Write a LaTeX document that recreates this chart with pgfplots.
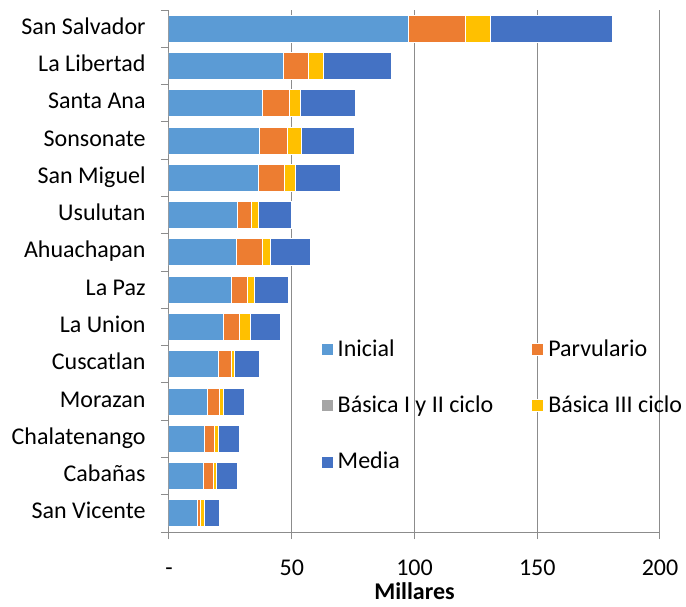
\documentclass[border=0pt]{standalone}
\usepackage{fontspec}
\setmainfont{Carlito}
\usepackage{pgfplots}
\usepackage{pgfplotstable}
\pgfplotsset{compat=1.18}
\definecolor{cIni}{HTML}{5B9BD5}
\definecolor{cPar}{HTML}{ED7D31}
\definecolor{cBas}{HTML}{A5A5A5}
\definecolor{cBIII}{HTML}{FFC000}
\definecolor{cMed}{HTML}{4472C4}
\definecolor{gridgray}{HTML}{8C8C8C}
\pgfplotsset{lsq/.style={legend image code/.code={\fill[##1] (0pt,-3pt) rectangle (6pt,3pt);}}}
\pgfplotstableread{
y ini par bas biii med
0 11.5 1.5 0 1.4 6.3
1 14.0 4.0 0 1.4 8.3
2 14.5 4.1 0 1.6 8.7
3 15.6 4.9 0 1.6 8.6
4 20.1 5.3 0 1.4 9.9
5 22.1 6.7 0 4.2 12.5
6 25.4 6.4 0 3.1 13.9
7 27.6 10.4 0 3.3 16.5
8 28.0 5.7 0 2.6 13.8
9 36.5 10.5 0 4.4 18.3
10 36.8 11.4 0 5.7 21.5
11 38.2 11.0 0 4.4 22.3
12 46.7 10.1 0 6.1 27.8
13 97.5 23.3 0 10.2 49.7
}\datatable
\begin{document}
\fontsize{12}{14}\selectfont
\begin{tikzpicture}
\begin{axis}[
  scale only axis, width=245.5pt, height=261pt,
  xbar stacked, bar width=13.5pt,
  xmin=0, xmax=200, ymin=-0.5, ymax=13.5,
  axis x line*=bottom, axis y line*=left,
  axis line style={gridgray, line width=0.5pt, -},
  xtick={0,50,100,150,200}, xticklabels={-,50,100,150,200},
  ytick={0,...,13},
  yticklabels={San Vicente,Cabañas,Chalatenango,Morazan,Cuscatlan,La Union,La Paz,Ahuachapan,Usulutan,San Miguel,Sonsonate,Santa Ana,La Libertad,San Salvador},
  minor ytick={-0.5,0.5,...,13.5},
  tick align=outside,
  major tick length=3.5pt, minor tick length=4pt,
  major y tick style={draw=none},
  minor y tick style={gridgray, line width=0.5pt},
  major x tick style={gridgray, line width=0.5pt},
  xmajorgrids, grid style={gridgray, line width=0.5pt},
  /pgf/number format/assume math mode=true,
  typeset ticklabels with strut,
  tick label style={font=\fontsize{12}{14}\selectfont},
  xticklabel style={yshift=-4pt},
  yticklabel style={xshift=-4pt},
  xlabel={Millares}, xlabel style={font=\fontsize{12}{14}\selectfont\bfseries, yshift=8.5pt},
  legend columns=2,
  legend cell align=left,
  legend style={draw=none, fill=none, at={(rel axis cs:0.296,0.385)}, anchor=north west,
    font=\fontsize{12}{14}\selectfont, row sep=14pt,
    /tikz/every even column/.append style={column sep=17pt}},
]
\addplot[fill=cIni, draw=white, line width=0.5pt, lsq] table[x=ini, y=y] {\datatable};
\addplot[fill=cPar, draw=white, line width=0.5pt, lsq] table[x=par, y=y] {\datatable};
\addplot[fill=cBas, draw=white, line width=0.5pt, lsq] table[x=bas, y=y] {\datatable};
\addplot[fill=cBIII, draw=white, line width=0.5pt, lsq] table[x=biii, y=y] {\datatable};
\addplot[fill=cMed, draw=white, line width=0.5pt, lsq] table[x=med, y=y] {\datatable};
\legend{Inicial, Parvulario, Básica I y II ciclo, Básica III ciclo, Media}
\end{axis}
\pgfresetboundingbox
\path ([shift={(-84.5pt,-37pt)}]current axis.south west) rectangle ([shift={(13pt,5pt)}]current axis.north east);
\end{tikzpicture}
\end{document}
